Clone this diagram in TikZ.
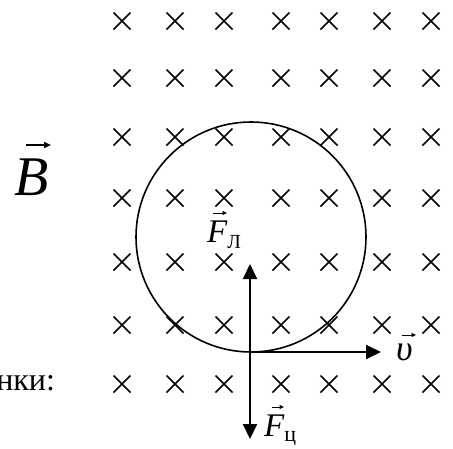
\documentclass[tikz,border=0pt]{standalone}
\usepackage{fontspec}
\setmainfont{Liberation Serif}
\usetikzlibrary{arrows.meta}
\tikzset{
  crossmark/.style={line width=1.7pt, line cap=butt},
  force/.style={line width=2pt, -{Triangle[length=15pt,width=14pt]}},
  orbit/.style={line width=1.6pt},
  lbl/.style={inner sep=0pt, outer sep=0pt},
  bigaccent/.style={line width=1.6pt, -{Triangle[length=7pt,width=6pt]}},
  accent/.style={line width=1pt, -{Triangle[length=4.5pt,width=4pt]}}
}
\begin{document}
\begin{tikzpicture}[x=1pt,y=-1pt]
\useasboundingbox (0,0) rectangle (453,448);
% field crosses
\foreach \x in {122,175,224,281,329,382,431}{
  \foreach \y in {21,78,137,198,262,325,384}{
    \draw[crossmark] (\x-8.5,\y-8.5) -- (\x+8.5,\y+8.5);
    \draw[crossmark] (\x-8.5,\y+8.5) -- (\x+8.5,\y-8.5);
  }
}
% orbit
\node[draw, circle, orbit, minimum size=230pt, inner sep=0pt] (orb) at (251,237) {};
% origin and tips
\coordinate (O) at (250,352);
\coordinate (up) at (250,264);
\coordinate (dn) at (250,439);
\coordinate (rt) at (381,352);
\draw[force] (O) -- (up);
\draw[force] (O) -- (dn);
\draw[force] (O) -- (rt);
% labels
\node[lbl, anchor=base west] (B) at (14,195) {\fontsize{56}{56}\selectfont\textit{B}};
\node[lbl, anchor=base west] (FL) at (207,242) {\fontsize{33}{33}\selectfont\textit{F}\raisebox{-6pt}{\fontsize{20}{20}\selectfont Л}};
\node[lbl, anchor=base west] (Fc) at (264,436) {\fontsize{33}{33}\selectfont\textit{F}\raisebox{-5pt}{\fontsize{22}{22}\selectfont ц}};
\node[lbl, anchor=base west] (v) at (396,360) {\fontsize{36}{36}\selectfont\textit{υ}};
\node[lbl, anchor=base east] (t) at (55,390) {\fontsize{32}{32}\selectfont нки:};
% vector accents over the letters
\draw[bigaccent] (26,145) -- (51,145);
\draw[accent] (213,213) -- (227,213);
\draw[accent] (272,407) -- (284,407);
\draw[accent] (402,335) -- (416,335);
\end{tikzpicture}
\end{document}
